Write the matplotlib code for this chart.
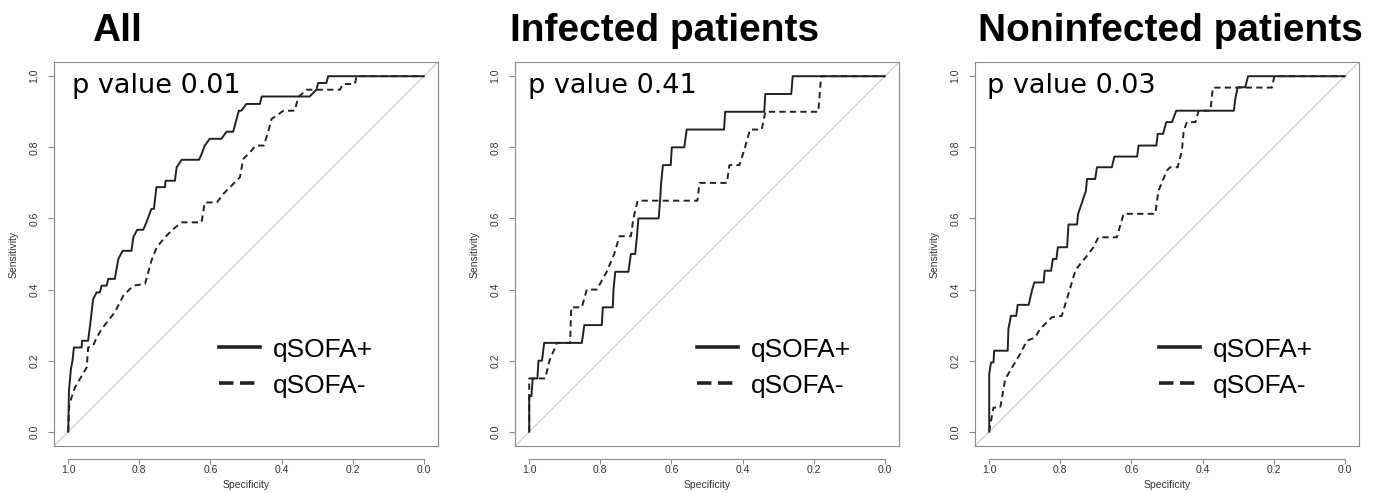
import matplotlib.pyplot as plt
from matplotlib.lines import Line2D

# Panel texts
titles = ['All', 'Infected patients', 'Noninfected patients']
p_labels = ['p value 0.01', 'p value 0.41', 'p value 0.03']
series_names = ['qSOFA+', 'qSOFA-']
ticks = [1.0, 0.8, 0.6, 0.4, 0.2, 0.0]

# ROC vertices (specificity, sensitivity)
all_pos_spec = [1.0, 0.998, 0.9925, 0.988, 0.984, 0.9625, 0.961, 0.944, 0.937, 0.930, 0.920, 0.911,
                0.906, 0.892, 0.8875, 0.869, 0.859, 0.847, 0.822, 0.817, 0.806, 0.789, 0.780, 0.766,
                0.759, 0.752, 0.728, 0.726, 0.700, 0.695, 0.681, 0.632, 0.625, 0.616, 0.602, 0.569,
                0.555, 0.536, 0.525, 0.520, 0.513, 0.499, 0.461, 0.456, 0.321, 0.302, 0.297, 0.274,
                0.269, 0.0]
all_pos_sens = [0.0, 0.115, 0.176, 0.200, 0.237, 0.237, 0.256, 0.256, 0.312, 0.373, 0.392, 0.392,
                0.411, 0.411, 0.430, 0.430, 0.486, 0.509, 0.509, 0.547, 0.568, 0.568, 0.589, 0.627,
                0.627, 0.688, 0.688, 0.706, 0.706, 0.744, 0.765, 0.765, 0.781, 0.805, 0.824, 0.824,
                0.844, 0.844, 0.885, 0.903, 0.903, 0.922, 0.922, 0.943, 0.943, 0.962, 0.981, 0.981,
                1.0, 1.0]
all_neg_spec = [1.0, 0.997, 0.981, 0.948, 0.944, 0.930, 0.920, 0.906, 0.869, 0.845, 0.817, 0.784,
                0.766, 0.751, 0.728, 0.705, 0.681, 0.625, 0.616, 0.582, 0.564, 0.536, 0.517, 0.508,
                0.489, 0.472, 0.450, 0.438, 0.428, 0.414, 0.395, 0.363, 0.353, 0.330, 0.236, 0.227,
                0.194, 0.189, 0.0]
all_neg_sens = [0.0, 0.078, 0.125, 0.181, 0.237, 0.242, 0.265, 0.289, 0.336, 0.383, 0.411, 0.416,
                0.481, 0.519, 0.547, 0.570, 0.589, 0.589, 0.645, 0.645, 0.669, 0.697, 0.716, 0.767,
                0.786, 0.805, 0.805, 0.842, 0.880, 0.889, 0.903, 0.903, 0.941, 0.962, 0.962, 0.978,
                0.978, 1.0, 1.0]

inf_pos_spec = [1.0, 1.0, 0.994, 0.990, 0.977, 0.974, 0.964, 0.958, 0.852, 0.845, 0.796, 0.793,
                0.765, 0.763, 0.758, 0.721, 0.714, 0.702, 0.697, 0.693, 0.636, 0.632, 0.629, 0.624,
                0.602, 0.599, 0.564, 0.557, 0.452, 0.449, 0.339, 0.336, 0.263, 0.259, 0.0]
inf_pos_sens = [0.0, 0.10, 0.10, 0.15, 0.15, 0.20, 0.20, 0.25, 0.25, 0.30, 0.30, 0.35,
                0.35, 0.40, 0.45, 0.45, 0.50, 0.50, 0.55, 0.60, 0.60, 0.65, 0.70, 0.75,
                0.75, 0.80, 0.80, 0.85, 0.85, 0.90, 0.90, 0.95, 0.95, 1.0, 1.0]
inf_neg_spec = [1.0, 1.0, 0.955, 0.943, 0.922, 0.885, 0.882, 0.852, 0.838, 0.810, 0.782, 0.761,
                0.746, 0.714, 0.707, 0.695, 0.527, 0.521, 0.444, 0.437, 0.409, 0.393, 0.379, 0.346,
                0.336, 0.187, 0.179, 0.0]
inf_neg_sens = [0.0, 0.15, 0.15, 0.20, 0.25, 0.25, 0.35, 0.35, 0.40, 0.40, 0.45, 0.50,
                0.55, 0.55, 0.60, 0.65, 0.65, 0.70, 0.70, 0.75, 0.75, 0.80, 0.85, 0.85,
                0.90, 0.90, 1.0, 1.0]

non_pos_spec = [1.0, 1.0, 0.995, 0.988, 0.986, 0.948, 0.946, 0.939, 0.924, 0.920, 0.889, 0.880,
                0.873, 0.847, 0.844, 0.826, 0.821, 0.811, 0.807, 0.781, 0.777, 0.753, 0.750, 0.739,
                0.728, 0.725, 0.702, 0.697, 0.655, 0.648, 0.584, 0.580, 0.530, 0.526, 0.511, 0.502,
                0.486, 0.474, 0.312, 0.308, 0.301, 0.280, 0.272, 0.0]
non_pos_sens = [0.0, 0.162, 0.195, 0.195, 0.228, 0.228, 0.289, 0.326, 0.326, 0.357, 0.357, 0.397,
                0.420, 0.420, 0.453, 0.453, 0.486, 0.486, 0.519, 0.519, 0.583, 0.583, 0.613, 0.645,
                0.678, 0.711, 0.711, 0.744, 0.744, 0.774, 0.774, 0.805, 0.805, 0.838, 0.838, 0.871,
                0.871, 0.903, 0.903, 0.936, 0.969, 0.969, 1.0, 1.0]
non_neg_spec = [1.0, 0.997, 0.988, 0.969, 0.955, 0.941, 0.913, 0.894, 0.871, 0.857, 0.838, 0.824,
                0.796, 0.777, 0.758, 0.744, 0.725, 0.707, 0.693, 0.641, 0.622, 0.533, 0.524, 0.500,
                0.491, 0.470, 0.458, 0.453, 0.444, 0.420, 0.411, 0.378, 0.371, 0.205, 0.198, 0.0]
non_neg_sens = [0.0, 0.020, 0.068, 0.068, 0.148, 0.172, 0.219, 0.256, 0.265, 0.289, 0.308, 0.322,
                0.326, 0.388, 0.453, 0.472, 0.495, 0.519, 0.547, 0.547, 0.613, 0.613, 0.678, 0.735,
                0.744, 0.744, 0.791, 0.847, 0.871, 0.871, 0.903, 0.903, 0.968, 0.968, 1.0, 1.0]

curves = [
    ((all_pos_spec, all_pos_sens), (all_neg_spec, all_neg_sens)),
    ((inf_pos_spec, inf_pos_sens), (inf_neg_spec, inf_neg_sens)),
    ((non_pos_spec, non_pos_sens), (non_neg_spec, non_neg_sens)),
]

# Layout in pixels of the 1378x493 canvas
W, H = 1378, 493
box_left = [54, 515, 975]
box_size = 384
box_bottom = 47
title_x = [92, 510, 978]
ptext_x = [0.046, 0.034, 0.031]
legend_x = [0.43, 0.474, 0.479]

line_col = '#222222'
frame_col = '#8a8a8a'

fig = plt.figure(figsize=(W / 100, H / 100), dpi=100)

for i in range(3):
    ax = fig.add_axes([box_left[i] / W, box_bottom / H, box_size / W, box_size / H])
    ax.axline((1, 0), (0, 1), color='#cfcfcf', lw=0.9, zorder=1)
    (ps, pv), (ns, nv) = curves[i]
    ax.plot(ps, pv, color=line_col, lw=1.4, zorder=3)
    ax.plot(ns, nv, color=line_col, lw=1.4, dashes=(3.2, 2.2), zorder=3)

    ax.set_xlim(1.04, -0.04)
    ax.set_ylim(-0.04, 1.04)
    ax.set_xticks(ticks)
    ax.set_yticks(ticks)
    ax.set_xticklabels([f'{t:.1f}' for t in ticks])
    ax.set_yticklabels([f'{t:.1f}' for t in ticks])

    for s in ax.spines.values():
        s.set_color(frame_col)
        s.set_linewidth(0.8)
    ax.spines['bottom'].set_position(('outward', 9))
    ax.spines['bottom'].set_bounds(0, 1)
    # box bottom edge (the x axis sits below it)
    ax.plot([0, 1], [0, 0], transform=ax.transAxes, color=frame_col, lw=0.8, clip_on=False)

    ax.tick_params(axis='both', width=0.8, color=frame_col,
                   labelsize=7.5, labelcolor='#333333')
    ax.tick_params(axis='x', length=3.5, pad=1)
    ax.tick_params(axis='y', length=4.5, pad=6)
    for lab in ax.get_yticklabels():
        lab.set_rotation(90)
        lab.set_va('center')
        lab.set_family('Liberation Sans')
    for lab in ax.get_xticklabels():
        lab.set_family('Liberation Sans')

    ax.set_xlabel('Specificity', fontsize=7.5, family='Liberation Sans', color='#333333')
    ax.set_ylabel('Sensitivity', fontsize=7.5, family='Liberation Sans', color='#333333')
    ax.xaxis.set_label_coords(0.5, -0.101)
    ax.xaxis.label.set_va('center')
    ax.yaxis.set_label_coords(-0.104, 0.5)
    ax.yaxis.label.set_va('center')

    ax.text(ptext_x[i], 0.919, p_labels[i], transform=ax.transAxes, fontsize=19.5,
            family='DejaVu Sans', va='baseline', color='black')

    handles = [Line2D([], [], color=line_col, lw=2.6),
               Line2D([], [], color=line_col, lw=2.6, dashes=(4, 1.8))]
    ax.legend(handles, series_names, loc='upper left', bbox_to_anchor=(legend_x[i], 0.282),
              frameon=False, borderpad=0, borderaxespad=0, handlelength=1.55,
              handletextpad=0.5, labelspacing=0.45,
              prop={'family': 'Liberation Sans', 'size': 19})

    fig.text(title_x[i] / W, 1 - 41 / H, titles[i], fontsize=28, fontweight='bold',
             family='Liberation Sans', va='baseline')

fig.savefig('out.png', dpi=100)
